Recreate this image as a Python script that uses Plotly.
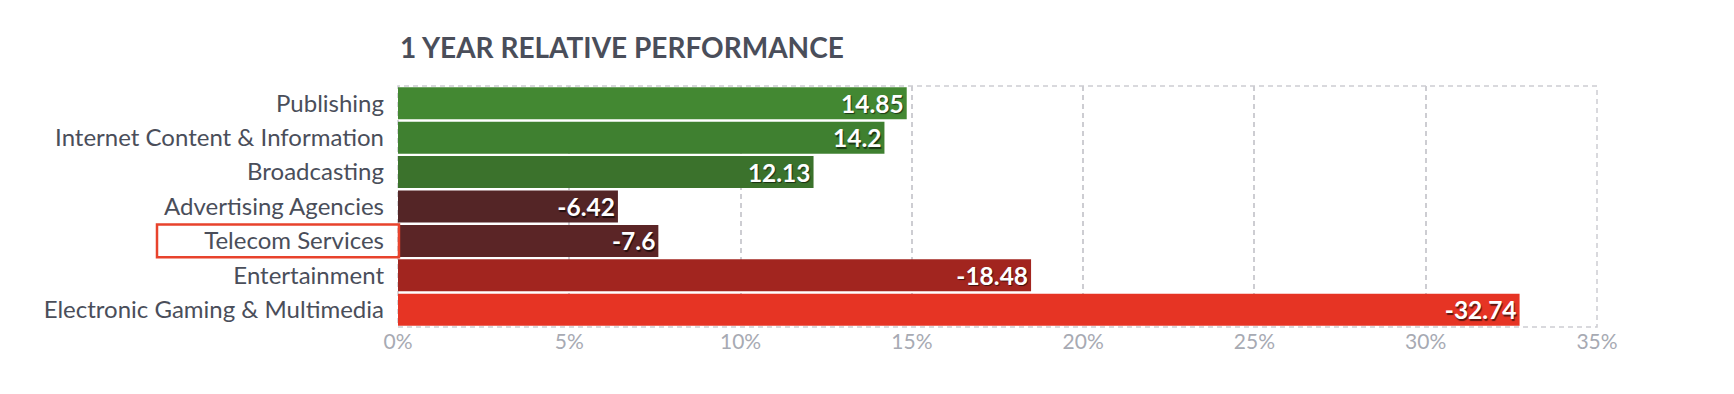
import plotly.graph_objects as go

categories = [
    "Publishing",
    "Internet Content & Information",
    "Broadcasting",
    "Advertising Agencies",
    "Telecom Services",
    "Entertainment",
    "Electronic Gaming & Multimedia",
]
values = [14.85, 14.2, 12.13, -6.42, -7.6, -18.48, -32.74]
bar_colors = ["#438832", "#3F8030", "#3B722C", "#542526", "#5B2526", "#A2251F", "#E63424"]
highlight = "Telecom Services"
x_ticks = [0, 5, 10, 15, 20, 25, 30, 35]
x_tick_labels = [f"{t}%" for t in x_ticks]
title_text = "1 YEAR RELATIVE PERFORMANCE"

# page body has an 8px default margin; figure sized to fit the viewport
W, H = 1718, 378
L, R, T, B = 390, 129, 78, 59

fig = go.Figure()
fig.add_trace(go.Bar(
    y=categories,
    x=[abs(v) for v in values],
    orientation="h",
    marker=dict(color=bar_colors, line=dict(width=0)),
    text=[str(v) for v in values],
    textposition="inside",
    insidetextanchor="end",
    constraintext="none",
    textangle=0,
    textfont=dict(family="Lato", size=24.5, color="white", weight=700,
                  shadow="1px 1.5px 1px rgba(0,0,0,0.6)"),
    hoverinfo="skip",
    cliponaxis=False,
))

grid_color = "#CDCDD2"
dash = "5px,4px"

hi = categories.index(highlight)
shapes = [
    dict(type="rect", xref="paper", yref="paper", x0=0, x1=1, y0=0, y1=1,
         line=dict(color=grid_color, width=1.5, dash=dash), layer="below"),
    dict(type="rect", xref="paper", yref="y", x0=-0.201, x1=0.0008,
         y0=hi - 0.475, y1=hi + 0.475,
         line=dict(color="#E8432C", width=2.5), layer="above"),
]

fig.update_layout(
    width=W, height=H,
    margin=dict(l=L, r=R, t=T, b=B, autoexpand=False),
    paper_bgcolor="white", plot_bgcolor="white",
    showlegend=False,
    bargap=0.07,
    title=dict(text=title_text, x=392 / W, xanchor="left", xref="container",
               y=1 - 40 / H, yanchor="middle", yref="container",
               font=dict(family="Lato", size=28, color="#4A4E5A", weight=700)),
    xaxis=dict(range=[0, 35], tickvals=x_ticks, ticktext=x_tick_labels,
               showgrid=True, gridcolor=grid_color, gridwidth=1.5, griddash=dash,
               zeroline=False, showline=False, ticks="",
               tickfont=dict(family="Lato", size=21, color="#A7AAB3"),
               fixedrange=True),
    yaxis=dict(autorange="reversed", showgrid=False, zeroline=False, showline=False,
               ticks="", ticklabelstandoff=13,
               tickfont=dict(family="Lato", size=24, color="#4A4E5A"),
               fixedrange=True),
    shapes=shapes,
)

fig.write_html("out.html")
